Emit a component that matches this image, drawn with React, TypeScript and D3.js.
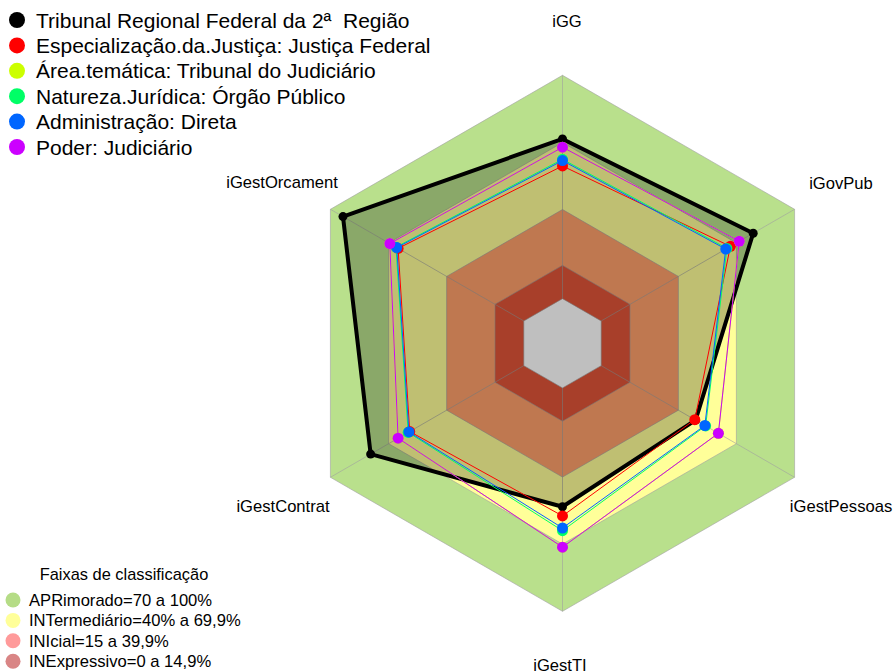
import * as d3 from "d3";

const axes = ["iGG", "iGovPub", "iGestPessoas", "iGestTI", "iGestContrat", "iGestOrcament"];

const seriesNames = [
  "Tribunal Regional Federal da 2ª  Região",
  "Especialização.da.Justiça: Justiça Federal",
  "Área.temática: Tribunal do Judiciário",
  "Natureza.Jurídica: Órgão Público",
  "Administração: Direta",
  "Poder: Judiciário",
];
const seriesColors = ["#000000", "#ff0000", "#ccff00", "#00ff66", "#0066ff", "#cc00ff"];

// values per axis, order as `axes`
const tribunal = [0.715, 0.786, 0.488, 0.532, 0.792, 0.935];
const especializacao = [0.594, 0.668, 0.484, 0.573, 0.59, 0.65];
const areaTematica = [0.678, 0.714, 0.606, 0.713, 0.65, 0.693];
const natureza = [0.624, 0.65, 0.54, 0.639, 0.598, 0.661];
const administracao = [0.618, 0.644, 0.536, 0.627, 0.594, 0.657];
const poder = [0.678, 0.714, 0.606, 0.713, 0.65, 0.693];
const seriesValues = [tribunal, especializacao, areaTematica, natureza, administracao, poder];

const bandNames = ["APRimorado=70 a 100%", "INTermediário=40% a 69,9%", "INIcial=15 a 39,9%", "INExpressivo=0 a 14,9%"];
const bandLimits = [1, 0.699, 0.399, 0.149];
const bandFills = ["#b9e08c", "#ffff99", "#ffa06b", "#e05538"];
const bandLegendColors = ["#b5dc86", "#ffff99", "#ff9a9a", "#d98585"];

const width = 895;
const height = 671;
const cx = 562.5;
const cy = 343.3;
const R = 268;

function angle(i: number) {
  return (-90 + i * 60) * (Math.PI / 180);
}

export default function App() {
  const r = d3.scaleLinear().domain([0, 1]).range([R / 6, R]);
  const pt = (v: number, i: number): [number, number] => [cx + r(v) * Math.cos(angle(i)), cy + r(v) * Math.sin(angle(i))];
  const line = d3.line<[number, number]>().curve(d3.curveLinearClosed);
  const ring = (v: number) => line(axes.map((_, i) => pt(v, i))) ?? "";

  const labelPos = [
    { x: 567, y: 27 },
    { x: 841, y: 189 },
    { x: 841, y: 512 },
    { x: 560, y: 671 },
    { x: 283, y: 512 },
    { x: 282, y: 188 },
  ];

  return (
    <svg
      width={width}
      height={height}
      viewBox={`0 0 ${width} ${height}`}
      style={{ position: "absolute", left: 0, top: 0, background: "#fff", fontFamily: "'Liberation Sans', Arial, sans-serif" }}
    >
      {bandLimits.map((v, k) => (
        <path key={v} d={ring(v)} fill={bandFills[k]} stroke="#a0a0a0" strokeOpacity={0.6} strokeWidth={1} />
      ))}
      <path d={ring(0)} fill="#ffffff" stroke="#a0a0a0" strokeOpacity={0.6} />
      {axes.map((a, i) => {
        const [x1, y1] = pt(0, i);
        const [x2, y2] = pt(1, i);
        return <line key={a} x1={x1} y1={y1} x2={x2} y2={y2} stroke="#a0a0a0" strokeOpacity={0.6} />;
      })}
      <path d={line(tribunal.map((v, i) => pt(v, i))) ?? ""} fill="rgba(0,0,0,0.25)" stroke="none" />
      {seriesValues.map((vals, s) => (
        <g key={seriesNames[s]}>
          <path
            d={line(vals.map((v, i) => pt(v, i))) ?? ""}
            fill="none"
            stroke={seriesColors[s]}
            strokeWidth={s === 0 ? 4 : 1}
            strokeLinejoin="round"
          />
          {vals.map((v, i) => {
            const [x, y] = pt(v, i);
            return <circle key={i} cx={x} cy={y} r={s === 0 ? 4.5 : 5.5} fill={seriesColors[s]} />;
          })}
        </g>
      ))}
      {axes.map((a, i) => (
        <text key={a} x={labelPos[i].x} y={labelPos[i].y} textAnchor="middle" fontSize={16.6} fill="#000">
          {a}
        </text>
      ))}
      {seriesNames.map((name, s) => (
        <g key={name} transform={`translate(0, ${20 + s * 25.4})`}>
          <circle cx={17} cy={0} r={8} fill={seriesColors[s]} />
          <text x={36} y={7.5} fontSize={21} fill="#000" style={{ whiteSpace: "pre" }}>
            {name}
          </text>
        </g>
      ))}
      <text x={124} y={580} textAnchor="middle" fontSize={16.4} fill="#000">
        Faixas de classificação
      </text>
      {bandNames.map((name, k) => (
        <g key={name} transform={`translate(0, ${600 + k * 20.4})`}>
          <circle cx={13} cy={0} r={7.5} fill={bandLegendColors[k]} />
          <text x={29} y={6} fontSize={16.6} fill="#000">
            {name}
          </text>
        </g>
      ))}
    </svg>
  );
}
